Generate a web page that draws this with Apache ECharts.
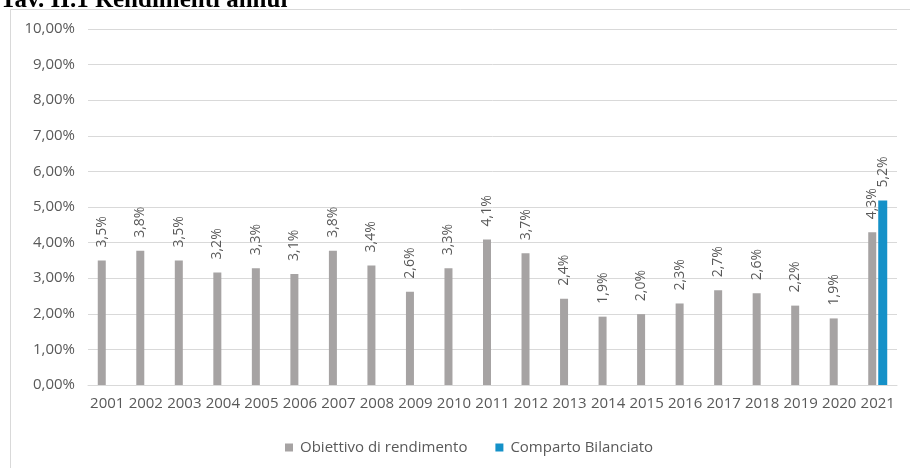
<!DOCTYPE html>
<html>
<head>
<meta charset="utf-8">
<script src="https://cdn.jsdelivr.net/npm/echarts@6/dist/echarts.min.js"></script>
<style>
html,body{margin:0;padding:0;background:#fff;}
#c{width:910px;height:468px;}
</style>
</head>
<body>
<div id="c"></div>
<script>
var years = ['2001','2002','2003','2004','2005','2006','2007','2008','2009','2010','2011','2012','2013','2014','2015','2016','2017','2018','2019','2020','2021'];
var obiettivo = [3.50,3.77,3.50,3.16,3.28,3.12,3.77,3.36,2.62,3.28,4.09,3.70,2.42,1.92,1.99,2.29,2.66,2.58,2.23,1.87,4.29];
var comparto = [null,null,null,null,null,null,null,null,null,null,null,null,null,null,null,null,null,null,null,null,5.18];
var seriesNames = ['Obiettivo di rendimento','Comparto Bilanciato'];
var titleText = 'Tav. II.1 Rendimenti annui';

var font = '"Open Sans", sans-serif';
var txt = '#595959';
function lbl(p){ return p.value.toFixed(1).replace('.', ',') + '%'; }
var labelCfg = {
  show: true, position: 'top', rotate: 90, distance: 13,
  align: 'left', verticalAlign: 'middle',
  color: txt, fontFamily: font, fontSize: 14, formatter: lbl
};
var chart = echarts.init(document.getElementById('c'));
chart.setOption({
  animation: false,
  backgroundColor: '#fff',
  graphic: [
    {type:'rect', shape:{x:10.5,y:9.5,width:940,height:480}, style:{fill:'none', stroke:'#d9d9d9', lineWidth:1}, silent:true},
    {type:'text', left: 0, top: -12, style:{text: titleText, font:'bold 25px "Liberation Serif", serif', fill:'#000'}}
  ],
  grid: {left: 88, right: 13, top: 29, bottom: 83},
  legend: {
    left: 280, top: 435, itemWidth: 8, itemHeight: 8, icon: 'rect', itemGap: 28,
    textStyle: {color: txt, fontFamily: font, fontSize: 15, padding:[0,0,0,2]},
    data: seriesNames
  },
  xAxis: {
    type: 'category', data: years,
    axisLine: {show: true, lineStyle: {color: '#d9d9d9'}},
    axisTick: {show: false},
    axisLabel: {color: txt, fontFamily: font, fontSize: 15, margin: 11, interval: 0}
  },
  yAxis: {
    type: 'value', min: 0, max: 10, interval: 1,
    axisLine: {show: false}, axisTick: {show: false},
    splitLine: {lineStyle: {color: '#d9d9d9'}},
    axisLabel: {color: txt, fontFamily: font, fontSize: 15, margin: 13,
      formatter: function(v){ return v.toFixed(2).replace('.', ',') + '%'; }}
  },
  series: [
    {name: seriesNames[0], type: 'bar', data: obiettivo, barWidth: 8, barGap: '25%',
     itemStyle: {color: '#a6a3a3'}, label: labelCfg},
    {name: seriesNames[1], type: 'bar', data: comparto, barWidth: 9,
     itemStyle: {color: '#1591c8'}, label: labelCfg}
  ]
});
</script>
</body>
</html>
